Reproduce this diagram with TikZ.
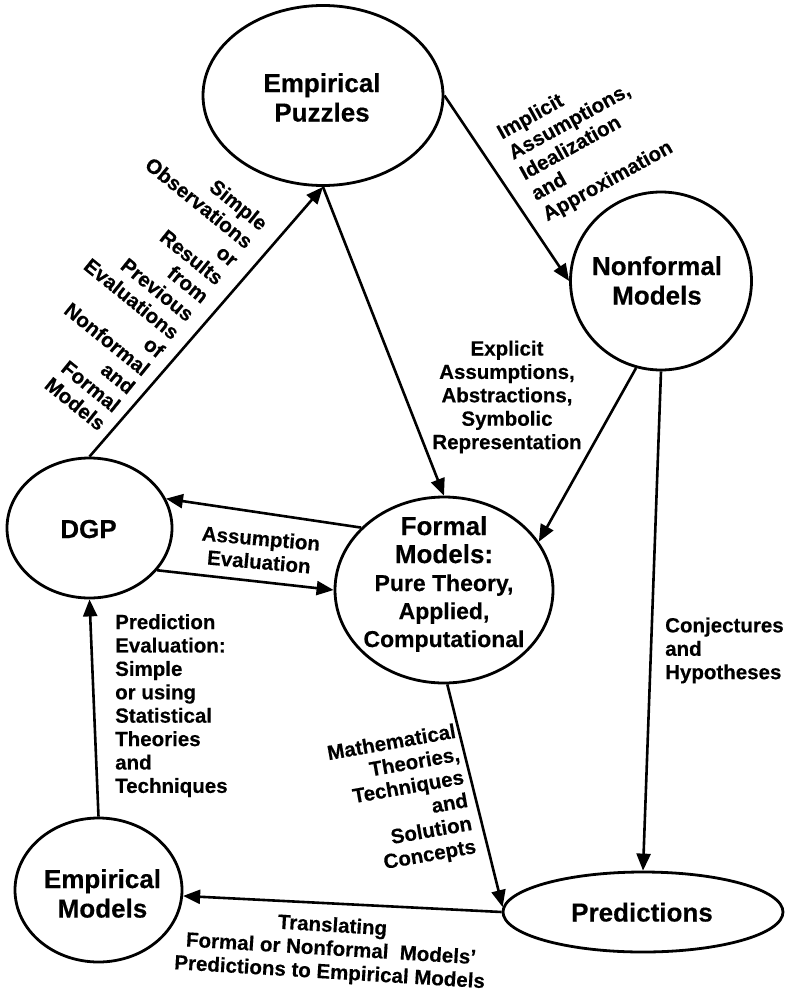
\documentclass[tikz,border=0pt]{standalone}
\usepackage{fontspec}
\setmainfont{Liberation Sans}[BoldFeatures={FakeBold=0.35}]
\usetikzlibrary{shapes.geometric,arrows.meta}
\begin{document}
\begin{tikzpicture}[x=1pt,y=-1pt,
  oval/.style={ellipse, draw, line width=2.8pt, inner sep=0pt},
  ntext/.style={font=\fontsize{26}{29.5}\selectfont\bfseries, align=center, inner sep=0pt},
  lab/.style={font=\fontsize{20.5}{23.4}\selectfont\bfseries, inner sep=0pt},
  conn/.style={line width=2.6pt, -{Triangle[length=17pt,width=14pt]}}]
\useasboundingbox (0,0) rectangle (788,993);
% ellipses
\node[oval, minimum width=240pt, minimum height=180pt] (ep) at (323,95.5) {};
\node[oval, minimum width=181pt, minimum height=178pt] (nm) at (661,281) {};
\node[oval, minimum width=165pt, minimum height=140pt] (dgp) at (89.5,528) {};
\node[oval, minimum width=218pt, minimum height=186pt] (fm) at (444,590) {};
\node[oval, minimum width=167pt, minimum height=144pt] (em) at (98.5,890) {};
\node[oval, minimum width=280pt, minimum height=80pt] (pr) at (643,912) {};
% node texts
\node[ntext, anchor=north] (ept) at (322,73) {Empirical\\Puzzles};
\node[ntext, anchor=north] (nmt) at (657,256) {Nonformal\\Models};
\node[ntext, anchor=base] (dgpt) at (88.5,538) {DGP};
\node[ntext, anchor=north, font=\fontsize{23}{28}\selectfont\bfseries] (fmt) at (444,516)
  {{\fontsize{26}{30}\selectfont Formal}\\{\fontsize{26}{30}\selectfont Models:}\\Pure Theory,\\Applied,\\Computational};
\node[ntext, anchor=north] (emt) at (102.5,869) {Empirical\\Models};
\node[ntext, anchor=base] (prt) at (642,921.5) {Predictions};
% connectors
\draw[conn] (dgp.north) -- (ep.south);
\draw[conn] (ep.south) -- (fm.north);
\draw[conn] (ep.east) -- (nm.west);
\draw[conn] (nm.-106) -- (fm.27);
\draw[conn] (nm.south) -- (pr.north);
\draw[conn] (fm.143) -- (dgp.21);
\draw[conn] (dgp.-32) -- (fm.west);
\draw[conn] (fm.-88) -- (pr.178);
\draw[conn] (pr.west) -- (em.-4);
\draw[conn] (em.north) -- (dgp.south);
% labels
\node[lab, align=right, rotate=-39, anchor=east] (l1) at (184,326)
  {Simple\\Observations\\or\\Results\\from\\Previous\\Evaluations\\of\\Nonformal\\and\\Formal\\Models};
\node[lab, align=left, rotate=29, anchor=west] (l2) at (522,176)
  {Implicit\\Assumptions,\\Idealization\\and\\Approximation};
\node[lab, align=center] (l3) at (507,397)
  {Explicit\\Assumptions,\\Abstractions,\\Symbolic\\Representation};
\node[lab, align=center, rotate=-5] (l4) at (260,550) {Assumption\\Evaluation};
\node[lab, align=left, anchor=north west] (l5) at (115,614)
  {Prediction\\Evaluation:\\Simple\\or using\\Statistical\\Theories\\and\\Techniques};
\node[lab, align=left, anchor=north west] (l6) at (665,617.3) {Conjectures\\and\\Hypotheses};
\node[lab, align=right, rotate=10, anchor=east] (l7) at (466,790)
  {Mathematical\\Theories,\\Techniques\\and\\Solution\\Concepts};
\node[lab, align=center, rotate=-3.5] (l8) at (331,950)
  {Translating\\Formal or Nonformal\ \ Models'\\Predictions to Empirical Models};
\end{tikzpicture}
\end{document}
